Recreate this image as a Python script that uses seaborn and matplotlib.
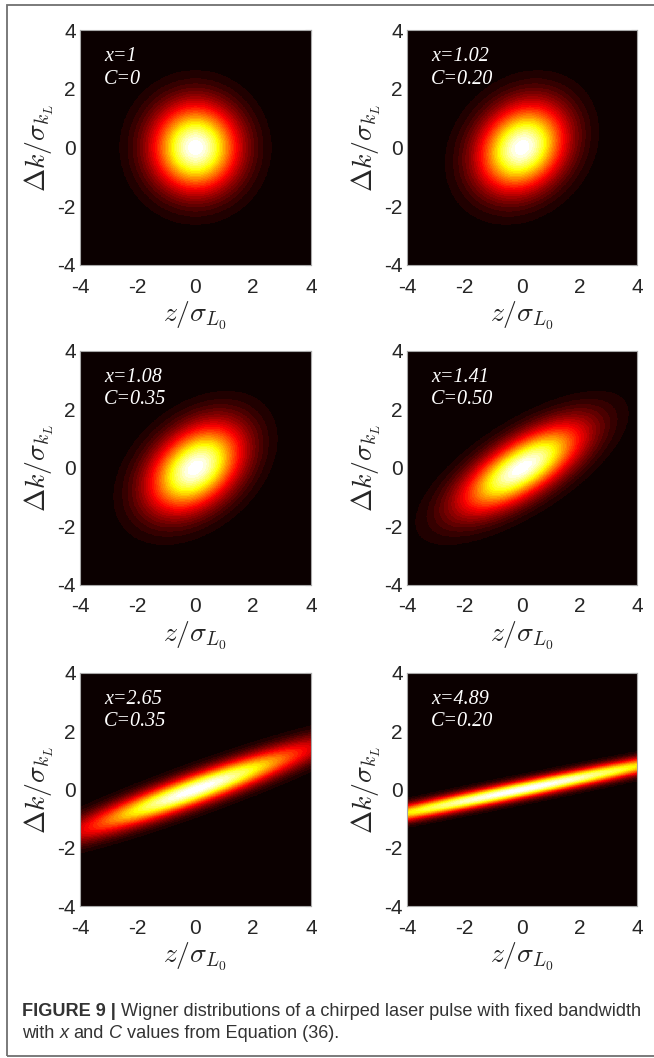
import numpy as np
import matplotlib
matplotlib.use("Agg")
import matplotlib.pyplot as plt
from matplotlib import font_manager
from matplotlib.patches import Rectangle
from matplotlib.colors import ListedColormap, BoundaryNorm
import seaborn as sns

# Chirp parameters of each panel, row by row
x_vals = [1.0, 1.02, 1.08, 1.41, 2.65, 4.89]
C_vals = [0.0, 0.20, 0.35, 0.50, 0.35, 0.20]
x_text = ["1", "1.02", "1.08", "1.41", "2.65", "4.89"]
C_text = ["0", "0.20", "0.35", "0.50", "0.35", "0.20"]
tick_vals = [-4, -2, 0, 2, 4]
tick_text = ["-4", "-2", "0", "2", "4"]

caption_line1 = [("FIGURE 9 |", "bold", "normal"),
                 ("Wigner distributions of a chirped laser pulse with fixed bandwidth", "normal", "normal")]
caption_line2 = [("with", "normal", "normal"), ("x", "normal", "italic"),
                 ("and", "normal", "normal"), ("C", "normal", "italic"),
                 ("values from Equation (36).", "normal", "normal")]

sns.set_theme(style="white")
plt.rcParams["font.family"] = ["Liberation Sans", "DejaVu Sans"]
plt.rcParams["mathtext.fontset"] = "cm"
plt.rcParams["axes.unicode_minus"] = False

installed = {f.name for f in font_manager.fontManager.ttflist}
caption_family = "Liberation Sans Narrow" if "Liberation Sans Narrow" in installed else "Liberation Sans"

W, H = 654, 1058
fig = plt.figure(figsize=(W / 100, H / 100), dpi=100)
fig.patch.set_facecolor("white")

# 32 filled levels of the "hot" map, lowest band = background
hot = sns.color_palette("hot", as_cmap=True)
levels = np.linspace(0.0, 1.0, 33)
band_cmap = ListedColormap([hot(v) for v in np.linspace(0.0, 1.0, len(levels) - 1)])
band_norm = BoundaryNorm(levels, band_cmap.N)

grid = np.linspace(-4, 4, 601)
U, V = np.meshgrid(grid, grid)

col_px = [(80, 231), (407, 230)]
row_px = [(30, 235), (350.7, 234.3), (673, 233)]

for i, (xv, cv) in enumerate(zip(x_vals, C_vals)):
    r, c = divmod(i, 2)
    left, width = col_px[c]
    top, height = row_px[r]
    ax = fig.add_axes([left / W, 1 - (top + height) / H, width / W, height / H])

    # Gaussian Wigner distribution with var(z)=x^2, var(k)=1, cov=C x^2
    det = xv ** 2 - (cv * xv ** 2) ** 2
    Q = (U ** 2 - 2 * cv * xv ** 2 * U * V + xv ** 2 * V ** 2) / det
    Z = np.exp(-0.5 * Q)
    Z = Z / Z.max()

    ax.pcolormesh(U, V, Z, cmap=band_cmap, norm=band_norm, shading="auto",
                  rasterized=True)
    ax.set_facecolor(hot(0.0))
    ax.set_xlim(-4, 4)
    ax.set_ylim(-4, 4)
    ax.set_xticks(tick_vals)
    ax.set_yticks(tick_vals)
    ax.set_xticklabels(tick_text)
    ax.set_yticklabels(tick_text)
    ax.tick_params(direction="in", length=4, width=0.8, color="#9a9a9a",
                   top=True, right=True, labelsize=15, labelcolor="#262626")
    ax.tick_params(axis="x", pad=9)
    ax.tick_params(axis="y", pad=3)
    for s in ax.spines.values():
        s.set_color("#a8a8a8")
        s.set_linewidth(0.8)
    ax.set_xlabel(r"$z/\sigma_{L_0}$", fontsize=20, labelpad=2, color="#262626")
    ax.set_ylabel(r"$\Delta k/\sigma_{k_L}$", fontsize=20, labelpad=1, color="#262626")

    ax.text(0.104, 0.868, f"x={x_text[i]}", transform=ax.transAxes, color="white",
            family="Liberation Serif", style="italic", fontsize=14.5, va="baseline")
    ax.text(0.104, 0.772, f"C={C_text[i]}", transform=ax.transAxes, color="white",
            family="Liberation Serif", style="italic", fontsize=14.5, va="baseline")

# Outer frame around figure and caption
fig.patches.append(Rectangle((6.5 / W, 1 - 1056 / H), 1.05, (1056 - 5) / H,
                             transform=fig.transFigure, fill=False,
                             edgecolor="#707070", linewidth=1.3))

renderer = fig.canvas.get_renderer()


def text_width(s, size, weight="normal", style="normal"):
    t = fig.text(0, 0, s, fontsize=size, family=caption_family, weight=weight, style=style)
    w = t.get_window_extent(renderer).width
    t.remove()
    return w


def line_width(runs, size):
    space = text_width("a a", size) - text_width("aa", size)
    total = sum(text_width(s, size, wt, st) for s, wt, st in runs)
    return total + space * (len(runs) - 1)


def draw_runs(runs, x0, baseline, size):
    space = text_width("a a", size) - text_width("aa", size)
    x = x0
    for s, wt, st in runs:
        t = fig.text(x / W, 1 - baseline / H, s, fontsize=size, family=caption_family,
                     weight=wt, style=st, va="baseline", ha="left", color="#333333")
        x = x + t.get_window_extent(renderer).width + space


base = 11.0
cap_size = base * 620.0 / line_width(caption_line1, base)
draw_runs(caption_line1, 22, 1016, cap_size)
draw_runs(caption_line2, 22, 1037.5, cap_size)

fig.savefig("out.png", dpi=100)
